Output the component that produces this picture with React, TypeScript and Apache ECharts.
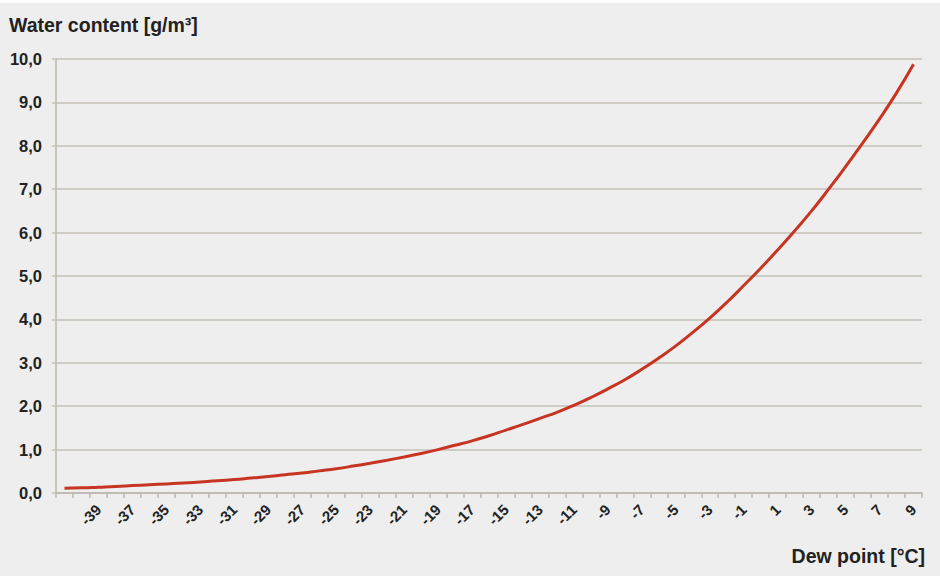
import React, { useEffect, useRef } from "react";
import * as echarts from "echarts";

const dewPoints: string[] = [
  "-41", "-40", "-39", "-38", "-37", "-36", "-35", "-34", "-33", "-32",
  "-31", "-30", "-29", "-28", "-27", "-26", "-25", "-24", "-23", "-22",
  "-21", "-20", "-19", "-18", "-17", "-16", "-15", "-14", "-13", "-12",
  "-11", "-10", "-9", "-8", "-7", "-6", "-5", "-4", "-3", "-2",
  "-1", "0", "1", "2", "3", "4", "5", "6", "7", "8", "9",
];

const waterContent: number[] = [
  0.11, 0.12, 0.135, 0.15, 0.17, 0.19, 0.21, 0.23, 0.255, 0.28,
  0.31, 0.345, 0.38, 0.42, 0.46, 0.51, 0.56, 0.62, 0.685, 0.755,
  0.83, 0.91, 1.0, 1.1, 1.2, 1.32, 1.45, 1.58, 1.72, 1.86,
  2.02, 2.2, 2.4, 2.61, 2.85, 3.11, 3.39, 3.7, 4.03, 4.39,
  4.78, 5.18, 5.6, 6.04, 6.5, 7.0, 7.52, 8.06, 8.62, 9.22, 9.88,
];

const yTitle = "Water content [g/m³]";
const xTitle = "Dew point [°C]";

const FONT = "'Liberation Sans', Arial, sans-serif";

export default function App() {
  const ref = useRef<HTMLDivElement>(null);

  useEffect(() => {
    if (!ref.current) return;
    const chart = echarts.init(ref.current, undefined, { renderer: "svg" });
    chart.setOption({
      animation: false,
      backgroundColor: "#eeeeee",
      textStyle: { fontFamily: FONT },
      title: [
        {
          text: yTitle,
          left: 9,
          top: 15,
          padding: 0,
          textStyle: { fontFamily: FONT, fontSize: 19.5, fontWeight: "bold", color: "#222222" },
        },
        {
          text: xTitle,
          right: 15,
          top: 546,
          padding: 0,
          textStyle: { fontFamily: FONT, fontSize: 19.5, fontWeight: "bold", color: "#222222" },
        },
      ],
      graphic: [
        { type: "rect", shape: { x: 0, y: 0, width: 940, height: 3 }, style: { fill: "#ffffff" } },
      ],
      grid: { left: 56, right: 18, top: 59, bottom: 83, containLabel: false },
      xAxis: {
        type: "category",
        data: dewPoints,
        boundaryGap: true,
        axisLine: { show: true, lineStyle: { color: "#bcb7ad", width: 1.5 } },
        axisTick: { show: true, interval: 0, length: 5, lineStyle: { color: "#bcb7ad", width: 1.5 } },
        axisLabel: {
          interval: (index: number) => index > 0 && index % 2 === 0,
          rotate: 45,
          margin: 14,
          fontFamily: FONT,
          fontSize: 15,
          fontWeight: "bold",
          color: "#222222",
        },
        splitLine: { show: false },
      },
      yAxis: {
        type: "value",
        min: 0,
        max: 10,
        interval: 1,
        axisLine: { show: true, lineStyle: { color: "#bcb7ad", width: 1.5 } },
        axisTick: { show: true, length: 4, lineStyle: { color: "#c4c0b8", width: 1.5 } },
        axisLabel: {
          margin: 14,
          fontFamily: FONT,
          fontSize: 16.5,
          fontWeight: "bold",
          color: "#222222",
          formatter: (v: number) => v.toFixed(1).replace(".", ","),
        },
        splitLine: { show: true, lineStyle: { color: "#c4c0b8", width: 1.5 } },
      },
      series: [
        {
          type: "line",
          data: waterContent,
          smooth: true,
          symbol: "none",
          lineStyle: { color: "#c73522", width: 3 },
        },
      ],
    });
    return () => chart.dispose();
  }, []);

  return (
    <div
      ref={ref}
      style={{ position: "absolute", left: 0, top: 0, width: 940, height: 576 }}
    />
  );
}
